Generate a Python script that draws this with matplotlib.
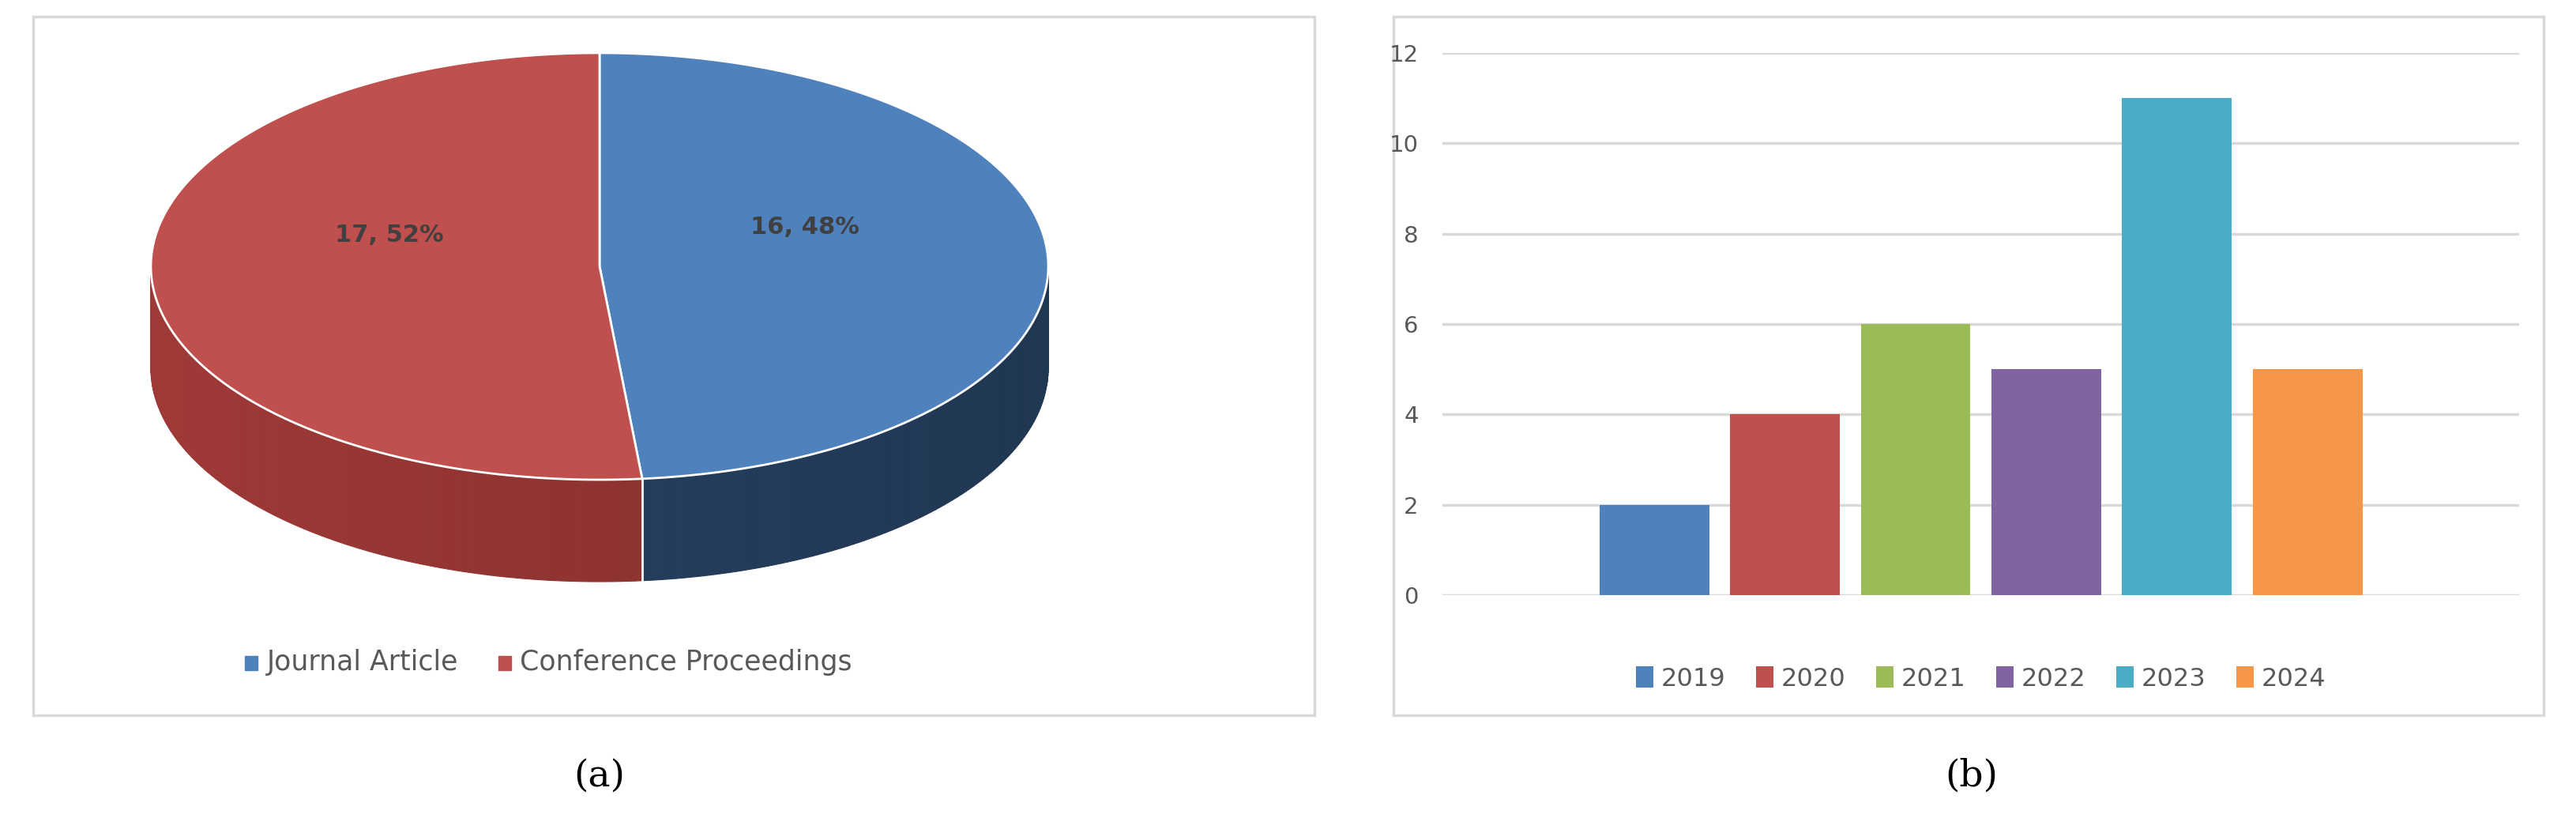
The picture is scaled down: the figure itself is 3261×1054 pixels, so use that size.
import numpy as np
import matplotlib.pyplot as plt
from matplotlib.patches import Rectangle, Polygon
import matplotlib.colors as mcolors

# pie data
pie_labels = ['Journal Article', 'Conference Proceedings']
pie_values = [16, 17]
pie_colors = ['#4f81bd', '#c0504d']
side_colors = ['#1f3550', '#7a2c2a']

# bar data
years = ['2019', '2020', '2021', '2022', '2023', '2024']
counts = [2, 4, 6, 5, 11, 5]
bar_colors = ['#4f81bd', '#c0504d', '#9bbb59', '#8064a2', '#4bacc6', '#f79646']

W, H = 3261, 1054
fig = plt.figure(figsize=(W / 100, H / 100), dpi=100)

# full-figure canvas in pixel units for boxes, pie and captions
bg = fig.add_axes([0, 0, 1, 1])
bg.set_xlim(0, W)
bg.set_ylim(H, 0)
bg.axis('off')
for x0, x1 in [(42, 1664), (1764, 3220)]:
    bg.add_patch(Rectangle((x0, 21), x1 - x0, 884, fill=False, ec='#d9d9d9', lw=2.5))

# --- 3D pie ---
cx, cy, a, b, depth = 759, 337, 568, 270, 129
total = sum(pie_values)
start = 90.0
angles = []
for v in pie_values:
    end = start - 360 * v / total
    angles.append((start, end))
    start = end

def ell(t):
    t = np.radians(t)
    return cx + a * np.cos(t), cy - b * np.sin(t)

# side walls (front half only: angles 180..360), drawn as shaded strips
for (s, e), col in zip(angles, side_colors):
    lo, hi = min(s, e), max(s, e)
    # map to 180..360 range
    ts = np.linspace(lo, hi, 200)
    ts = np.mod(ts, 360)
    ts = ts[(ts >= 180) & (ts <= 360)]
    ts = np.sort(ts)
    base = np.array(mcolors.to_rgb(col))
    for t0, t1 in zip(ts[:-1], ts[1:]):
        x0, y0 = ell(t0)
        x1, y1 = ell(t1)
        f = 0.55 + 0.45 * (np.cos(np.radians(t0)) * -1 + 1) / 2
        c = np.clip(base * (0.7 + 0.6 * f), 0, 1)
        bg.add_patch(Polygon([(x0, y0), (x1, y1), (x1, y1 + depth), (x0, y0 + depth)],
                             closed=True, fc=c, ec=c, lw=0.8))
# split line on front wall
xs, ys = ell(angles[0][1])
bg.plot([xs, xs], [ys, ys + depth], color='white', lw=2)
# top faces
for (s, e), col in zip(angles, pie_colors):
    ts = np.linspace(s, e, 300)
    pts = [(cx, cy)] + [ell(t) for t in ts]
    bg.add_patch(Polygon(pts, closed=True, fc=col, ec='white', lw=2))

for (s, e), v, pos in zip(angles, pie_values, [(1019, 287), (493, 297)]):
    bg.text(pos[0], pos[1], f'{v}, {round(100 * v / total)}%', ha='center', va='center',
            fontsize=22, fontweight='bold', color='#404040')

# pie legend
lx = 310
for lab, col in zip(pie_labels, pie_colors):
    bg.add_patch(Rectangle((lx, 830), 16, 18, color=col))
    t = bg.text(lx + 28, 838, lab, va='center', fontsize=25, color='#595959')
    lx += 28 + len(lab) * 15.5 + 60

bg.text(759, 982, '(a)', ha='center', va='center', fontsize=34, family='DejaVu Serif')
bg.text(2496, 982, '(b)', ha='center', va='center', fontsize=34, family='DejaVu Serif')

# --- bar chart ---
ax = fig.add_axes([0.560, 0.2856, 0.418, 0.651])
x = np.arange(len(years))
ax.bar(x, counts, width=0.84, color=bar_colors, label=years)
ax.set_ylim(0, 12)
ax.set_yticks(range(0, 13, 2))
ax.set_xlim(2.5 - 4.12, 2.5 + 4.12)
ax.set_xticks([])
ax.grid(axis='y', color='#d9d9d9', lw=2.5)
ax.set_axisbelow(True)
for s in ax.spines.values():
    s.set_visible(False)
ax.tick_params(axis='y', length=0, labelsize=21, labelcolor='#595959', pad=22)
ax.legend(ncol=6, loc='upper center', bbox_to_anchor=(0.5, -0.09), frameon=False,
          fontsize=23, labelcolor='#595959', handlelength=0.7, handleheight=0.9,
          handletextpad=0.3, columnspacing=1.2)

fig.savefig('out.png', dpi=100, facecolor='white')
